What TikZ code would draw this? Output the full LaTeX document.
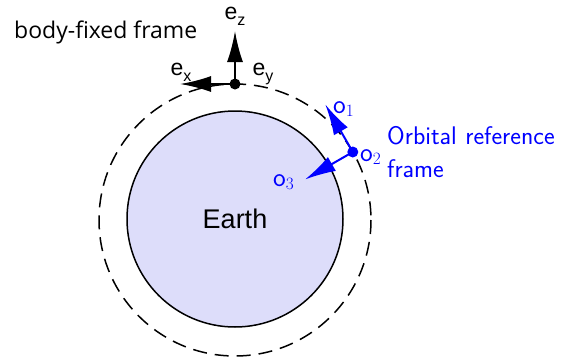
\documentclass[tikz,border=0pt]{standalone}
\usepackage{fontspec}
\setmainfont{Liberation Sans}
\newfontfamily\bodyfont{Open Sans}
\usetikzlibrary{arrows.meta}
\definecolor{earthfill}{RGB}{221,221,250}
\definecolor{ofblue}{RGB}{0,0,255}
\newcommand{\esub}[2]{#1\raisebox{-0.28em}{\fontsize{16}{16}\selectfont #2}}
\begin{document}
\begin{tikzpicture}[x=1pt,y=-1pt,
  arr/.style={line width=2pt,-{Latex[length=31pt,width=16pt]}},
  dotnode/.style={circle,fill,inner sep=0pt,minimum size=11pt},
  elabel/.style={inner sep=0pt,font=\fontsize{23}{25}\selectfont},
  olabel/.style={inner sep=0pt,text=ofblue,font=\fontsize{27}{29}\selectfont},
  orbit/.style={line width=1.5pt,dash pattern=on 14pt off 8pt},
  earthstyle/.style={circle,draw,line width=1.5pt,fill=earthfill,inner sep=0pt,minimum size=216pt,font=\fontsize{27}{30}\selectfont}
]
\useasboundingbox (0,0) rectangle (574,362);
% orbit
\draw[orbit] (235,220) circle[radius=136];
% Earth
\node[earthstyle] (earth) at (235,219) {Earth};
% body-fixed frame
\node[dotnode] (bf) at (235,84) {};
\coordinate (ezt) at (235,31);
\coordinate (ext) at (180,84);
\draw[arr] (bf.center) -- (ezt);
\draw[arr] (bf.center) -- (ext);
\node[elabel,anchor=base] (ez) at (235,19) {\esub{e}{z}};
\node[elabel,anchor=base] (ex) at (181,75) {\esub{e}{x}};
\node[elabel,anchor=base] (ey) at (263,75) {\esub{e}{y}};
\node[anchor=base west,inner sep=0pt,font=\bodyfont\fontsize{23}{25}\selectfont] (bff) at (14,38) {body-fixed frame};
% orbital frame
\node[dotnode,ofblue] (of) at (352.8,152) {};
\coordinate (o1t) at (325.3,104.4);
\coordinate (o3t) at (305,179.5);
\draw[arr,ofblue] (of.center) -- (o1t);
\draw[arr,ofblue] (of.center) -- (o3t);
\node[olabel,anchor=base west] (o1) at (333,113) {$\mathsf{o}_1$};
\node[olabel,anchor=base west] (o2) at (360,161) {$\mathsf{o}_2$};
\node[olabel,anchor=base west] (o3) at (273,186) {$\mathsf{o}_3$};
\node[anchor=base west,inner sep=0pt,text=ofblue,text width=190pt,align=left,font=\sffamily\fontsize{25.5}{33}\selectfont] (ofl) at (387,144) {Orbital reference\\frame};
\end{tikzpicture}
\end{document}
